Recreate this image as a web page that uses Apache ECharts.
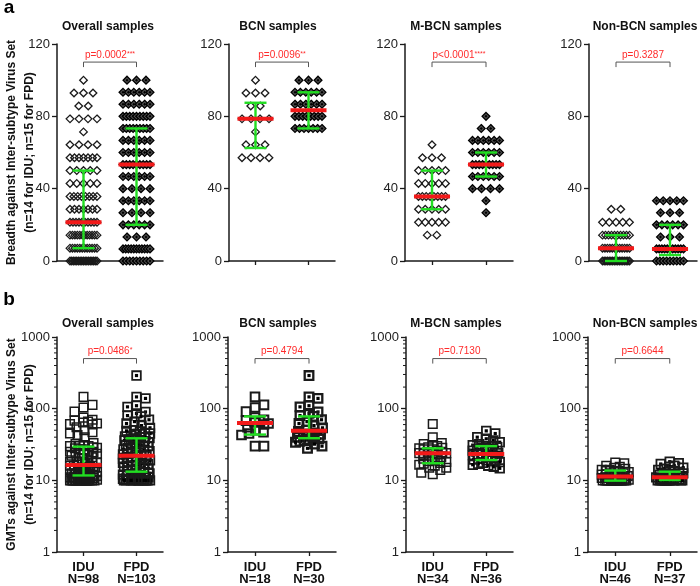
<!DOCTYPE html>
<html><head><meta charset="utf-8">
<script src="https://cdn.jsdelivr.net/npm/echarts@6/dist/echarts.min.js"></script>
<style>html,body{margin:0;padding:0;background:#fff}#c{width:700px;height:586px}</style>
</head><body><div id="c"></div><script>
// ---------------- DATA ----------------
const panelTitles = ['Overall samples', 'BCN samples', 'M-BCN samples', 'Non-BCN samples'];
const groupNames = ['IDU', 'FPD'];
const nIdu = [98, 18, 34, 46];
const nFpd = [103, 30, 36, 37];

// (a) breadth: possible levels and number of samples at each level
const iduLevels = [100, 92.9, 85.7, 78.6, 71.4, 64.3, 57.1, 50, 42.9, 35.7, 28.6, 21.4, 14.3, 7.1, 0];
const fpdLevels = [100, 93.3, 86.7, 80, 73.3, 66.7, 60, 53.3, 46.7, 40, 33.3, 26.7, 20, 13.3, 6.7, 0];
const breadthBcnIdu  = [1, 3, 2, 4, 1, 3, 4, 0, 0, 0, 0, 0, 0, 0, 0];
const breadthMbcnIdu = [0, 0, 0, 0, 0, 1, 3, 5, 5, 8, 5, 5, 2, 0, 0];
const breadthNonIdu  = [0, 0, 0, 0, 0, 0, 0, 0, 0, 0, 2, 5, 10, 12, 17];
const breadthBcnFpd  = [3, 6, 6, 8, 7, 0, 0, 0, 0, 0, 0, 0, 0, 0, 0, 0];
const breadthMbcnFpd = [0, 0, 0, 1, 2, 6, 6, 9, 6, 4, 1, 1, 0, 0, 0, 0];
const breadthNonFpd  = [0, 0, 0, 0, 0, 0, 0, 0, 0, 0, 5, 3, 6, 3, 11, 9];

// (b) GMTs
const gmtBcnIdu = [146, 113, 104, 91, 75, 70, 68, 66, 64, 62, 60, 55, 50, 47, 45, 43, 30, 30];
const gmtBcnFpd = [290, 146, 139, 110, 106, 90, 86, 80, 78, 70, 66, 62, 58, 54, 50, 48, 46, 44, 42, 41, 40, 39, 38, 37, 36, 35, 34, 32, 30, 28];
const gmtMbcnIdu = [61, 40, 33, 32, 31, 30, 29, 28.5, 28, 27, 27, 26, 25, 24.5, 24, 24, 23.8, 23.5, 23, 22, 21, 20, 19, 18.5, 18, 17.5, 17, 16.5, 16, 15, 15, 14, 12.8, 12.2];
const gmtMbcnFpd = [49, 45, 40, 38, 36, 34, 32, 31, 30, 30, 29, 28, 27, 26, 25.5, 25, 24, 23.5, 23, 22.5, 22, 21.5, 21, 20.5, 20, 19.5, 19, 19, 18.5, 18, 17.5, 17, 16.5, 16, 15.5, 14.7];
const gmtNonIdu = [17.7, 17.3, 16, 15.5, 15, 14.5, 14, 14, 13.5, 13.5, 13, 13, 12.5, 12.5, 12, 12, 12, 11.5, 11.5, 11.5, 11, 11, 11, 11, 10.8, 10.5, 10.5, 10.5, 10.2, 10.2, 10, 10, 10, 10, 10, 10, 10, 10, 10, 10, 10, 10, 10, 10, 10, 10];
const gmtNonFpd = [18.2, 17.3, 16.9, 16, 15.5, 15, 14.5, 14, 13.5, 13.2, 13, 12.5, 12.5, 12, 12, 11.5, 11.5, 11, 11, 11, 10.8, 10.5, 10.5, 10.2, 10.2, 10, 10, 10, 10, 10, 10, 10, 10, 10, 10, 10, 10];

// medians and interquartile ranges (Overall, BCN, M-BCN, Non-BCN)
const aMedIdu = [21.4, 78.6, 35.7, 7.1], aQ1Idu = [7.1, 62.5, 28.6, 0], aQ3Idu = [50, 87.5, 50, 14.3];
const aMedFpd = [53.3, 83.3, 53.3, 6.7], aQ1Fpd = [20, 73.3, 46.7, 3.3], aQ3Fpd = [73.3, 93.3, 60, 20];
const bMedIdu = [16.4, 63, 23.8, 11.3], bQ1Idu = [11.7, 43.5, 17.3, 9.9], bQ3Idu = [29.5, 78, 28, 13.7];
const bMedFpd = [22.1, 49, 23.3, 11.0], bQ1Fpd = [13.2, 38.7, 19.2, 10.1], bQ3Fpd = [38.6, 78, 30, 13.2];

const aPValues = ['p=0.0002', 'p=0.0096', 'p<0.0001', 'p=0.3287'];
const aStars = ['***', '**', '****', ''];
const bPValues = ['p=0.0486', 'p=0.4794', 'p=0.7130', 'p=0.6644'];
const bStars = ['*', '', '', ''];
const aBracketLevel = 110;
const bBracketLevel = 500;
const bMinorTicks = [2, 3, 4, 5, 6, 7, 8, 9, 20, 30, 40, 50, 60, 70, 80, 90, 200, 300, 400, 500, 600, 700, 800, 900];

// ---------------- LAYOUT ----------------
const FONT = '"Liberation Sans", Arial, Helvetica, sans-serif';
const gridA = {left: [57, 229, 405, 589], width: [106, 106, 108, 108], top: 44, height: 217};
const gridB = {left: [57, 228, 406, 588], width: [106, 108, 107, 109], top: 337, height: 215};
const titleX = [108, 278, 456, 645];
const GREEN = '#22dd22', RED = '#f21a1a', INK = '#1a1a1a';

function expand(levels, counts) {
  const out = [];
  levels.forEach((v, i) => { for (let k = 0; k < counts[i]; k++) out.push(v); });
  return out;
}
function sumCounts(...arrs) { return arrs[0].map((_, i) => arrs.reduce((s, a) => s + a[i], 0)); }

const breadth = [
  [expand(iduLevels, sumCounts(breadthBcnIdu, breadthMbcnIdu, breadthNonIdu)), expand(fpdLevels, sumCounts(breadthBcnFpd, breadthMbcnFpd, breadthNonFpd))],
  [expand(iduLevels, breadthBcnIdu), expand(fpdLevels, breadthBcnFpd)],
  [expand(iduLevels, breadthMbcnIdu), expand(fpdLevels, breadthMbcnFpd)],
  [expand(iduLevels, breadthNonIdu), expand(fpdLevels, breadthNonFpd)]
];
const gmt = [
  [gmtBcnIdu.concat(gmtMbcnIdu, gmtNonIdu), gmtBcnFpd.concat(gmtMbcnFpd, gmtNonFpd)],
  [gmtBcnIdu, gmtBcnFpd],
  [gmtMbcnIdu, gmtMbcnFpd],
  [gmtNonIdu, gmtNonFpd]
];

const chart = echarts.init(document.getElementById('c'), null, {renderer: 'canvas'});

const grids = [], xAxes = [], yAxes = [];
for (let p = 0; p < 8; p++) {
  const isA = p < 4, k = p % 4, G = isA ? gridA : gridB;
  grids.push({left: G.left[k], width: G.width[k], top: G.top, height: G.height});
  xAxes.push({
    type: 'category', gridIndex: p, data: groupNames, boundaryGap: true,
    axisLine: {show: true, lineStyle: {color: INK, width: 1.5}},
    axisTick: {show: true, alignWithLabel: true, length: 4, lineStyle: {color: INK, width: 1.3}},
    axisLabel: isA ? {show: false} : {
      interval: 0, fontFamily: FONT, fontWeight: 'bold', fontSize: 13, lineHeight: 12, color: '#111', margin: 9,
      formatter: (v, i) => v + '\nN=' + (i === 0 ? nIdu[k] : nFpd[k])
    },
    splitLine: {show: false}
  });
  const common = {
    gridIndex: p,
    axisLine: {show: true, lineStyle: {color: INK, width: 1.5}},
    axisTick: {show: true, length: 5, lineStyle: {color: INK, width: 1.3}},
    axisLabel: {fontFamily: FONT, fontSize: 13, color: '#222', margin: 7, formatter: v => String(v)},
    splitLine: {show: false}
  };
  yAxes.push(isA ? Object.assign({type: 'value', min: 0, max: 120, interval: 40}, common)
                 : Object.assign({type: 'log', logBase: 10, min: 1, max: 1000}, common));
}

const graphic = [
  {type: 'text', x: 9, y: 8, style: {text: 'a', fontFamily: FONT, fontSize: 19, fontWeight: 'bold', fill: '#000', align: 'center', verticalAlign: 'middle'}},
  {type: 'text', x: 9, y: 300, style: {text: 'b', fontFamily: FONT, fontSize: 19, fontWeight: 'bold', fill: '#000', align: 'center', verticalAlign: 'middle'}},
  {type: 'text', x: 20.5, y: 152.5, rotation: Math.PI / 2, style: {text: 'Breadth against Inter-subtype Virus Set\n(n=14 for IDU; n=15 for FPD)', fontFamily: FONT, fontSize: 12, fontWeight: 'bold', lineHeight: 18, fill: '#111', align: 'center', verticalAlign: 'middle'}},
  {type: 'text', x: 20.5, y: 444.5, rotation: Math.PI / 2, style: {text: 'GMTs against Inter-subtype Virus Set\n(n=14 for IDU; n=15 for FPD)', fontFamily: FONT, fontSize: 12, fontWeight: 'bold', lineHeight: 18, fill: '#111', align: 'center', verticalAlign: 'middle'}}
];
for (let k = 0; k < 4; k++) {
  graphic.push({type: 'text', x: titleX[k], y: 27, style: {text: panelTitles[k], fontFamily: FONT, fontSize: 12, fontWeight: 'bold', fill: '#111', align: 'center', verticalAlign: 'middle'}});
  graphic.push({type: 'text', x: titleX[k], y: 323.5, style: {text: panelTitles[k], fontFamily: FONT, fontSize: 12, fontWeight: 'bold', fill: '#111', align: 'center', verticalAlign: 'middle'}});
}

chart.setOption({
  backgroundColor: '#fff', animation: false,
  textStyle: {fontFamily: FONT},
  grid: grids, xAxis: xAxes, yAxis: yAxes, graphic: graphic, series: []
});

// --------------- layout of points ---------------
function rowOffsets(values) {
  const off = new Array(values.length), groups = {};
  values.forEach((v, i) => { (groups[v] = groups[v] || []).push(i); });
  Object.keys(groups).forEach(key => {
    const ids = groups[key], n = ids.length;
    const s = n > 1 ? Math.min(9.5, 27 / (n - 1)) : 0;
    ids.forEach((id, j) => { off[id] = (j - (n - 1) / 2) * s; });
  });
  return off;
}
function swarmOffsets(values, yPix, maxHalf, d) {
  const n = values.length, off = new Array(n), placed = [];
  const idx = values.map((v, i) => i).sort((a, b) => values[b] - values[a]);
  const cands = [0];
  for (let s = 0.5; s <= maxHalf + 1e-9; s += 0.5) { cands.push(s); cands.push(-s); }
  for (const i of idx) {
    const y = yPix[i];
    let chosen = null, bestClr = -1, bestX = 0;
    for (const x of cands) {
      let clr = Infinity;
      for (const q of placed) {
        const c = Math.max(Math.abs(q[0] - x), Math.abs(q[1] - y));
        if (c < clr) clr = c;
      }
      if (clr >= d) { chosen = x; break; }
      if (clr > bestClr + 1e-9) { bestClr = clr; bestX = x; }
    }
    if (chosen === null) chosen = bestX;
    off[i] = chosen; placed.push([chosen, y]);
  }
  return off;
}

function diamond(x, y, h, style) {
  return {type: 'polygon', shape: {points: [[x, y - h], [x + h, y], [x, y + h], [x - h, y]]}, style: style};
}
function square(x, y, h, style) {
  return {type: 'rect', shape: {x: x - h, y: y - h, width: 2 * h, height: 2 * h}, style: style};
}

const series = [];
for (let p = 0; p < 8; p++) {
  const isA = p < 4, k = p % 4;
  for (let g = 0; g < 2; g++) {
    const vals = isA ? breadth[k][g] : gmt[k][g];
    let offs;
    if (isA) offs = rowOffsets(vals);
    else {
      const yPix = vals.map(v => chart.convertToPixel({yAxisIndex: p}, v));
      offs = swarmOffsets(vals, yPix, 13.5, 8.6);
    }
    const data = vals.map((v, i) => [g, v, offs[i]]);
    const bw = (!isA && k === 1) ? 2 : 1.5;
    series.push({
      type: 'custom', xAxisIndex: p, yAxisIndex: p, z: 2, silent: true,
      encode: {x: 0, y: 1},
      data: data,
      renderItem: (params, api) => {
        const c = api.coord([api.value(0), api.value(1)]);
        const x = c[0] + api.value(2), y = c[1];
        const kids = [];
        if (isA) {
          if (g === 0) kids.push(diamond(x, y, 3.8, {fill: 'none', stroke: INK, lineWidth: 1.3}));
          else {
            kids.push(diamond(x, y, 3.9, {fill: '#505050', stroke: '#000', lineWidth: 1.3}));
            kids.push(diamond(x, y, 1.5, {fill: '#000'}));
          }
        } else {
          if (g === 0) kids.push(square(x, y, 4.3, {fill: 'none', stroke: INK, lineWidth: bw}));
          else {
            kids.push(square(x, y, 4.3, {fill: 'none', stroke: INK, lineWidth: bw + 0.3}));
            kids.push(square(x, y, 1.6, {fill: '#000'}));
          }
        }
        return {type: 'group', children: kids};
      }
    });
  }
  // error bars: median + IQR
  const ebData = isA ? [[0, aMedIdu[k], aQ1Idu[k], aQ3Idu[k]], [1, aMedFpd[k], aQ1Fpd[k], aQ3Fpd[k]]]
                     : [[0, bMedIdu[k], bQ1Idu[k], bQ3Idu[k]], [1, bMedFpd[k], bQ1Fpd[k], bQ3Fpd[k]]];
  series.push({
    type: 'custom', xAxisIndex: p, yAxisIndex: p, z: 4, silent: true,
    encode: {x: 0, y: [1, 2, 3]},
    data: ebData,
    renderItem: (params, api) => {
      const cat = api.value(0);
      const m = api.coord([cat, api.value(1)]), q1 = api.coord([cat, api.value(2)]), q3 = api.coord([cat, api.value(3)]);
      const x = m[0];
      const gs = {stroke: GREEN, lineWidth: 2.4};
      return {type: 'group', children: [
        {type: 'line', shape: {x1: x, y1: q3[1], x2: x, y2: q1[1]}, style: gs},
        {type: 'line', shape: {x1: x - 11, y1: q3[1], x2: x + 11, y2: q3[1]}, style: gs},
        {type: 'line', shape: {x1: x - 11, y1: q1[1], x2: x + 11, y2: q1[1]}, style: gs},
        {type: 'line', shape: {x1: x - 18, y1: m[1], x2: x + 18, y2: m[1]}, style: {stroke: RED, lineWidth: 4}}
      ]};
    }
  });
  // significance bracket
  const pv = isA ? aPValues[k] : bPValues[k], st = isA ? aStars[k] : bStars[k];
  series.push({
    type: 'custom', xAxisIndex: p, yAxisIndex: p, z: 5, silent: true,
    encode: {x: 0, y: 1},
    data: [[0, isA ? aBracketLevel : bBracketLevel]],
    renderItem: (params, api) => {
      const lv = api.value(1);
      const a = api.coord([0, lv]), b = api.coord([1, lv]);
      const y = a[1];
      return {type: 'group', children: [
        {type: 'polyline', shape: {points: [[a[0], y + 5], [a[0], y], [b[0], y], [b[0], y + 5]]}, style: {stroke: '#555', lineWidth: 1, fill: null}},
        {type: 'text', x: (a[0] + b[0]) / 2, y: y - 7, style: {
          text: '{p|' + pv + '}' + (st ? '{s|' + st + '}' : ''),
          rich: {p: {fontSize: 10, fontFamily: FONT, fill: '#ff2b2b'}, s: {fontSize: 7, fontFamily: FONT, fill: '#ff2b2b', verticalAlign: 'top'}},
          align: 'center', verticalAlign: 'middle'}}
      ]};
    }
  });
  if (!isA) {
    series.push({
      type: 'custom', xAxisIndex: p, yAxisIndex: p, z: 3, silent: true,
      encode: {x: 0, y: 1},
      data: bMinorTicks.map(v => [0, v]),
      renderItem: (params, api) => {
        const c = api.coord([0, api.value(1)]);
        const ax = params.coordSys.x;
        return {type: 'line', shape: {x1: ax - 3, y1: c[1], x2: ax, y2: c[1]}, style: {stroke: INK, lineWidth: 1}};
      }
    });
  }
}
chart.setOption({series: series});
</script></body></html>
